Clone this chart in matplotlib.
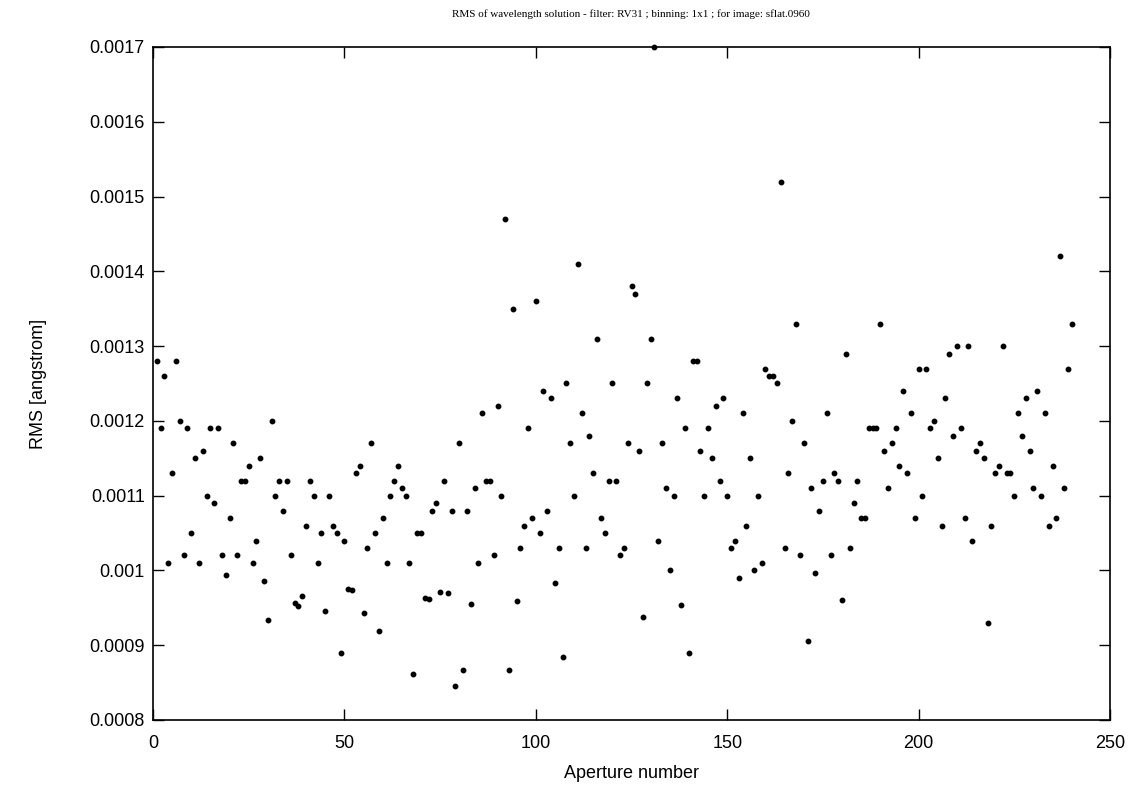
import matplotlib
matplotlib.use('Agg')
import matplotlib.pyplot as plt
import numpy as np

# aperture numbers and rms values
aperture = np.arange(1, 241)
rms = [
    0.00128, 0.00119, 0.00126, 0.00101, 0.00113, 0.00128, 0.00120, 0.00102, 0.00119, 0.00105,
    0.00115, 0.00101, 0.00116, 0.00110, 0.00119, 0.00109, 0.00119, 0.00102, 0.000994, 0.00107,
    0.00117, 0.00102, 0.00112, 0.00112, 0.00114, 0.00101, 0.00104, 0.00115, 0.000986, 0.000934,
    0.00120, 0.00110, 0.00112, 0.00108, 0.00112, 0.00102, 0.000956, 0.000953, 0.000966, 0.00106,
    0.00112, 0.00110, 0.00101, 0.00105, 0.000946, 0.00110, 0.00106, 0.00105, 0.000890, 0.00104,
    0.000975, 0.000974, 0.00113, 0.00114, 0.000943, 0.00103, 0.00117, 0.00105, 0.000919, 0.00107,
    0.00101, 0.00110, 0.00112, 0.00114, 0.00111, 0.00110, 0.00101, 0.000862, 0.00105, 0.00105,
    0.000963, 0.000962, 0.00108, 0.00109, 0.000971, 0.00112, 0.000970, 0.00108, 0.000845, 0.00117,
    0.000867, 0.00108, 0.000955, 0.00111, 0.00101, 0.00121, 0.00112, 0.00112, 0.00102, 0.00122,
    0.00110, 0.00147, 0.000867, 0.00135, 0.000959, 0.00103, 0.00106, 0.00119, 0.00107, 0.00136,
    0.00105, 0.00124, 0.00108, 0.00123, 0.000983, 0.00103, 0.000884, 0.00125, 0.00117, 0.00110,
    0.00141, 0.00121, 0.00103, 0.00118, 0.00113, 0.00131, 0.00107, 0.00105, 0.00112, 0.00125,
    0.00112, 0.00102, 0.00103, 0.00117, 0.00138, 0.00137, 0.00116, 0.000938, 0.00125, 0.00131,
    0.00170, 0.00104, 0.00117, 0.00111, 0.00100, 0.00110, 0.00123, 0.000954, 0.00119, 0.000890,
    0.00128, 0.00128, 0.00116, 0.00110, 0.00119, 0.00115, 0.00122, 0.00112, 0.00123, 0.00110,
    0.00103, 0.00104, 0.000990, 0.00121, 0.00106, 0.00115, 0.00100, 0.00110, 0.00101, 0.00127,
    0.00126, 0.00126, 0.00125, 0.00152, 0.00103, 0.00113, 0.00120, 0.00133, 0.00102, 0.00117,
    0.000905, 0.00111, 0.000997, 0.00108, 0.00112, 0.00121, 0.00102, 0.00113, 0.00112, 0.000961,
    0.00129, 0.00103, 0.00109, 0.00112, 0.00107, 0.00107, 0.00119, 0.00119, 0.00119, 0.00133,
    0.00116, 0.00111, 0.00117, 0.00119, 0.00114, 0.00124, 0.00113, 0.00121, 0.00107, 0.00127,
    0.00110, 0.00127, 0.00119, 0.00120, 0.00115, 0.00106, 0.00123, 0.00129, 0.00118, 0.00130,
    0.00119, 0.00107, 0.00130, 0.00104, 0.00116, 0.00117, 0.00115, 0.000930, 0.00106, 0.00113,
    0.00114, 0.00130, 0.00113, 0.00113, 0.00110, 0.00121, 0.00118, 0.00123, 0.00116, 0.00111,
    0.00124, 0.00110, 0.00121, 0.00106, 0.00114, 0.00107, 0.00142, 0.00111, 0.00127, 0.00133,
]

xticks = [0, 50, 100, 150, 200, 250]
yticks = [0.0008, 0.0009, 0.001, 0.0011, 0.0012, 0.0013, 0.0014, 0.0015, 0.0016, 0.0017]
ytick_labels = ['0.0008', '0.0009', '0.001', '0.0011', '0.0012', '0.0013',
                '0.0014', '0.0015', '0.0016', '0.0017']

plt.rcParams['font.family'] = ['Liberation Sans', 'DejaVu Sans']

fig = plt.figure(figsize=(11.45, 7.94), dpi=100)
ax = fig.add_axes([153 / 1145, 74 / 794, 957 / 1145, 673 / 794])

ax.plot(aperture, rms, 'o', color='black', markersize=3.2, clip_on=False)

ax.set_xlim(0, 250)
ax.set_ylim(0.0008, 0.0017)
ax.set_xticks(xticks)
ax.set_xticklabels([str(t) for t in xticks])
ax.set_yticks(yticks)
ax.set_yticklabels(ytick_labels)
ax.tick_params(direction='in', length=8, width=1, top=True, right=True, labelsize=13)
ax.tick_params(axis='x', pad=11)
ax.tick_params(axis='y', pad=6)
for s in ax.spines.values():
    s.set_linewidth(1.2)

ax.set_xlabel('Aperture number', fontsize=13, labelpad=9)
ax.set_ylabel('RMS [angstrom]', fontsize=13, labelpad=30)

fig.text(0.551, 0.982, 'RMS of wavelength solution - filter: RV31 ; binning: 1x1 ; for image: sflat.0960',
         ha='center', va='center', fontsize=8, family='Liberation Serif')

fig.savefig('out.png', dpi=100)
